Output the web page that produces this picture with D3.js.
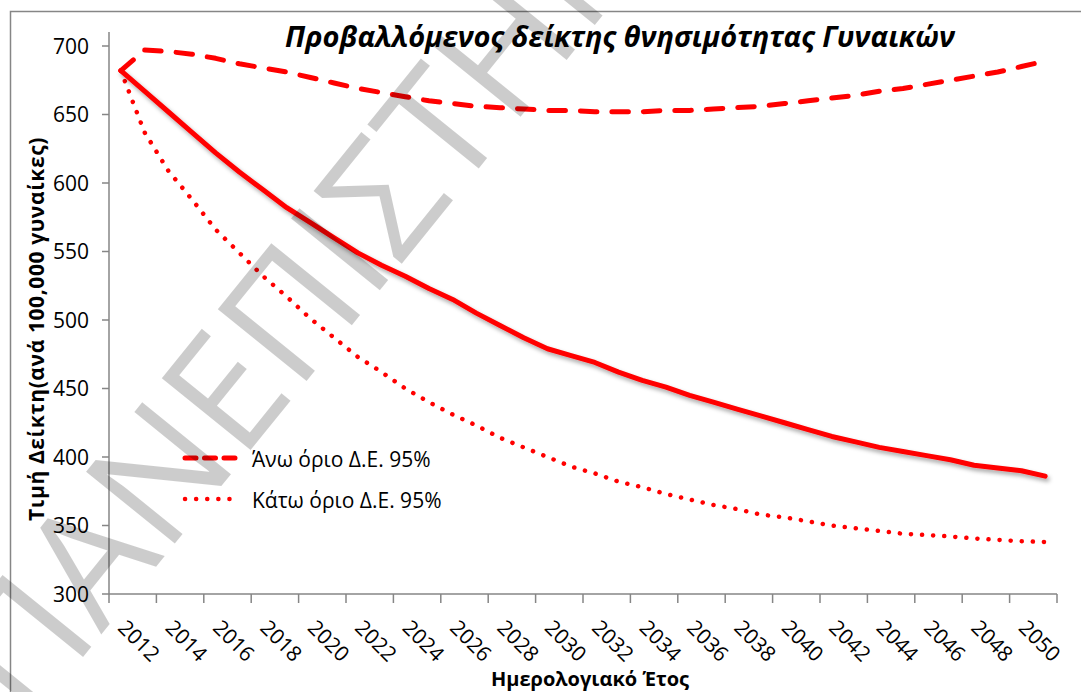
<!DOCTYPE html>
<html>
<head>
<meta charset="utf-8">
<script src="https://cdn.jsdelivr.net/npm/d3@7"></script>
<style>
  body { margin: 0; background: #fff; }
  svg text { font-family: "Open Sans", "DejaVu Sans", sans-serif; }
</style>
</head>
<body>
<div id="chart"></div>
<script>
// Data
let years = [2012, 2013, 2014, 2015, 2016, 2017, 2018, 2019, 2020, 2021,
  2022, 2023, 2024, 2025, 2026, 2027, 2028, 2029, 2030, 2031,
  2032, 2033, 2034, 2035, 2036, 2037, 2038, 2039, 2040, 2041,
  2042, 2043, 2044, 2045, 2046, 2047, 2048, 2049, 2050, 2051];

let central = [682, 667, 652, 637, 622, 608, 595, 582, 571, 560,
  549, 540, 532, 523, 515, 505, 496, 487, 479, 474,
  469, 462, 456, 451, 445, 440, 435, 430, 425, 420,
  415, 411, 407, 404, 401, 398, 394, 392, 390, 386];

let upper = [682, 697, 696, 694, 691, 687, 684, 681, 677, 673,
  669, 666, 663, 660, 658, 656, 655, 654, 653, 653,
  652, 652, 652, 653, 653, 654, 655, 656, 658, 660,
  662, 664, 667, 669, 672, 675, 678, 681, 685, 689];

let lower = [682, 637, 609, 588, 566, 549, 532, 517, 501, 487,
  473, 462, 450, 440, 431, 423, 414, 407, 400, 393,
  388, 382, 378, 373, 369, 365, 362, 358, 356, 353,
  350, 348, 346, 344, 343, 342, 340.5, 339.5, 338.5, 338];

let yTicks = [300, 350, 400, 450, 500, 550, 600, 650, 700];
let xLabels = [2012, 2014, 2016, 2018, 2020, 2022, 2024, 2026, 2028, 2030,
  2032, 2034, 2036, 2038, 2040, 2042, 2044, 2046, 2048, 2050];

let title = "Προβαλλόμενος δείκτης θνησιμότητας Γυναικών";
let xTitle = "Ημερολογιακό Έτος";
let yTitle = "Τιμή Δείκτη(ανά 100,000 γυναίκες)";
let legendNames = ["Άνω όριο Δ.Ε. 95%", "Κάτω όριο Δ.Ε. 95%"];
let watermark = "ΠΑΝΕΠΙΣΤΗΜΙΟ";

// Set size
let w = 1081;
let h = 692;
let plotLeft = 109, plotRight = 1057, plotTop = 46, plotBottom = 594;
let axisColor = "#868686";

let svg = d3.select("#chart")
  .append("svg")
  .attr("width", w)
  .attr("height", h);

let defs = svg.append("defs");
let shadow = defs.append("filter")
  .attr("id", "shadow")
  .attr("x", "-10%").attr("y", "-10%")
  .attr("width", "130%").attr("height", "130%");
shadow.append("feDropShadow")
  .attr("dx", 2).attr("dy", 3)
  .attr("stdDeviation", 2)
  .attr("flood-color", "#000")
  .attr("flood-opacity", 0.35);

// Chart border
svg.append("rect")
  .attr("x", 10.5).attr("y", 11.5)
  .attr("width", w + 20).attr("height", h + 20)
  .attr("fill", "none")
  .attr("stroke", axisColor)
  .attr("stroke-width", 1.5);

// Scales
let xScale = d3.scaleBand()
  .domain(years)
  .range([plotLeft, plotRight])
  .padding(0);

let yScale = d3.scaleLinear()
  .domain([300, 700])
  .range([plotBottom, plotTop]);

let xc = (d) => xScale(d) + xScale.bandwidth() / 2;

// Y axis
svg.append("line")
  .attr("x1", plotLeft).attr("x2", plotLeft)
  .attr("y1", 32).attr("y2", plotBottom)
  .attr("stroke", axisColor).attr("stroke-width", 1.5);

svg.selectAll(".ytick")
  .data(yTicks)
  .enter()
  .append("line")
  .attr("class", "ytick")
  .attr("x1", plotLeft - 7).attr("x2", plotLeft)
  .attr("y1", (d) => yScale(d)).attr("y2", (d) => yScale(d))
  .attr("stroke", axisColor).attr("stroke-width", 1.5);

svg.selectAll(".ylabel")
  .data(yTicks)
  .enter()
  .append("text")
  .attr("class", "ylabel")
  .text((d) => d)
  .attr("x", 89)
  .attr("y", (d) => yScale(d))
  .attr("dy", "0.36em")
  .attr("text-anchor", "end")
  .attr("font-size", "21px")
  .attr("fill", "#000");

// X axis
svg.append("line")
  .attr("x1", plotLeft).attr("x2", plotRight)
  .attr("y1", plotBottom).attr("y2", plotBottom)
  .attr("stroke", axisColor).attr("stroke-width", 1.5);

let xTickPos = xLabels.map((d) => xScale(d)).concat([plotRight]);
svg.selectAll(".xtick")
  .data(xTickPos)
  .enter()
  .append("line")
  .attr("class", "xtick")
  .attr("x1", (d) => d).attr("x2", (d) => d)
  .attr("y1", plotBottom).attr("y2", plotBottom + 9)
  .attr("stroke", axisColor).attr("stroke-width", 1.5);

svg.selectAll(".xlabel")
  .data(xLabels)
  .enter()
  .append("text")
  .attr("class", "xlabel")
  .text((d) => d)
  .attr("transform", (d) => "translate(" + (xc(d) - 4) + "," + (plotBottom + 35) + ") rotate(45)")
  .attr("font-size", "21px")
  .attr("fill", "#000");

// Axis titles
svg.append("text")
  .text(xTitle)
  .attr("x", 590).attr("y", 686)
  .attr("text-anchor", "middle")
  .attr("font-size", "20px")
  .attr("font-weight", "bold");

svg.append("text")
  .text(yTitle)
  .attr("transform", "translate(44,329) rotate(-90)")
  .attr("text-anchor", "middle")
  .attr("font-size", "21px")
  .attr("letter-spacing", "0.6px")
  .attr("font-weight", "bold");

// Title
svg.append("text")
  .text(title)
  .attr("x", 620).attr("y", 47)
  .attr("text-anchor", "middle")
  .attr("font-size", "29px")
  .attr("font-weight", "bold")
  .attr("font-style", "italic");

// Lines
let line = (vals) => d3.line()
  .x((d, i) => xc(years[i]))
  .y((d) => yScale(d))(vals);

svg.append("path")
  .attr("d", line(lower))
  .attr("fill", "none")
  .attr("stroke", "#ff0000")
  .attr("stroke-width", 4.5)
  .attr("stroke-linecap", "round")
  .attr("stroke-dasharray", "0.1,11");

svg.append("path")
  .attr("d", line(upper))
  .attr("fill", "none")
  .attr("stroke", "#ff0000")
  .attr("stroke-width", 5)
  .attr("stroke-linecap", "round")
  .attr("stroke-linejoin", "round")
  .attr("stroke-dasharray", "16.5,15");

svg.append("path")
  .attr("d", line(central))
  .attr("fill", "none")
  .attr("stroke", "#ff0000")
  .attr("stroke-width", 5)
  .attr("stroke-linejoin", "round")
  .attr("stroke-linecap", "round")
  .attr("filter", "url(#shadow)");

// Legend
let legendY = [458, 499];
let legendDash = ["11,8.5", "0.1,11"];
let legend = svg.selectAll(".legend")
  .data(legendNames)
  .enter()
  .append("g")
  .attr("class", "legend")
  .attr("transform", (d, i) => "translate(0," + legendY[i] + ")");

legend.append("line")
  .attr("x1", 185).attr("x2", 240)
  .attr("y1", 0).attr("y2", 0)
  .attr("stroke", "#ff0000")
  .attr("stroke-width", (d, i) => i === 0 ? 5 : 4.5)
  .attr("stroke-linecap", "round")
  .attr("stroke-dasharray", (d, i) => legendDash[i]);

legend.append("text")
  .text((d) => d)
  .attr("x", 252).attr("y", 9)
  .attr("font-size", "21px")
  .attr("fill", "#000");

// Watermark on top
svg.append("text")
  .text(watermark)
  .attr("transform", "translate(28,725) rotate(-51)")
  .attr("font-family", "DejaVu Sans")
  .attr("font-size", "160px")
  .attr("fill", "#000")
  .attr("fill-opacity", 0.2);
</script>
</body>
</html>
